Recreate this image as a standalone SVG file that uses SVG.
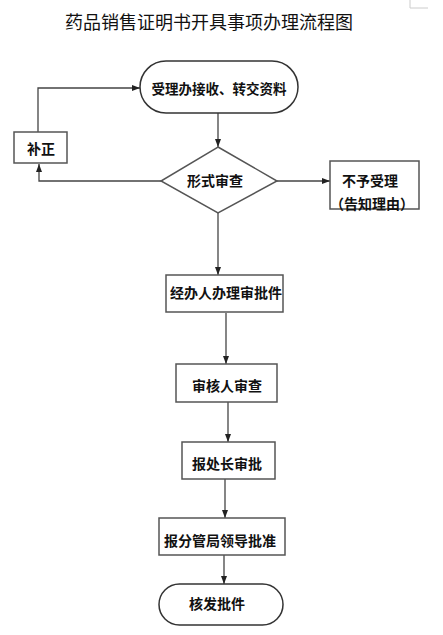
<svg xmlns="http://www.w3.org/2000/svg" width="443" height="635" viewBox="0 0 443 635">
<style>
.node{fill:#fff;stroke:#555;stroke-width:1.5}
.term{fill:#fff;stroke:#333;stroke-width:1.5}
.lbl{font-family:"Noto Sans CJK SC","Noto Sans",sans-serif;font-weight:bold;font-size:14px;fill:#111;text-anchor:middle;dominant-baseline:central}
.title{font-family:"Noto Sans CJK SC","Noto Sans",sans-serif;font-size:18px;fill:#111;text-anchor:middle}
.edge{fill:none;stroke:#444;stroke-width:1.3}
</style>
<defs>
<marker id="arr" markerUnits="userSpaceOnUse" markerWidth="8" markerHeight="8" viewBox="0 0 8 8" refX="8" refY="4" orient="auto">
<path d="M0,1 L8,4 L0,7 Z" fill="#222"/>
</marker>
</defs>
<rect width="443" height="635" fill="#fff"/>
<path d="M410,0 V8 H428" fill="none" stroke="#ccc" stroke-width="1"/>
<text class="title" x="209" y="29">药品销售证明书开具事项办理流程图</text>
<g id="connectors">
<path class="edge" d="M218,113 V147" marker-end="url(#arr)"/>
<path class="edge" d="M161,181 H39 V164" marker-end="url(#arr)"/>
<path class="edge" d="M38,132 V88 H140" marker-end="url(#arr)"/>
<path class="edge" d="M277,181 H330" marker-end="url(#arr)"/>
<path class="edge" d="M218,213 V275" marker-end="url(#arr)"/>
<path class="edge" d="M226,313 V364" marker-end="url(#arr)"/>
<path class="edge" d="M228,402 V442" marker-end="url(#arr)"/>
<path class="edge" d="M225,479 V518" marker-end="url(#arr)"/>
<path class="edge" d="M224,555 V584" marker-end="url(#arr)"/>
</g>
<g id="start">
<rect class="term" x="140" y="61" width="158" height="52" rx="26"/>
<text class="lbl" x="219" y="88" style="font-size:13.5px">受理办接收、转交资料</text>
</g>
<g id="check">
<path class="node" d="M218,147 L277,181 L218,213 L161,181 Z"/>
<text class="lbl" x="215" y="180">形式审查</text>
</g>
<g id="correct">
<rect class="node" x="14" y="132" width="53" height="31"/>
<text class="lbl" x="41" y="148">补正</text>
</g>
<g id="reject">
<rect class="node" x="330" y="161" width="89" height="48"/>
<text class="lbl" x="370" y="180">不予受理</text>
<text class="lbl" x="372" y="203">（告知理由）</text>
</g>
<g id="handler">
<rect class="node" x="166" y="275" width="117" height="37"/>
<text class="lbl" x="226" y="292">经办人办理审批件</text>
</g>
<g id="reviewer">
<rect class="node" x="176" y="364" width="101" height="38"/>
<text class="lbl" x="227" y="385">审核人审查</text>
</g>
<g id="director">
<rect class="node" x="182" y="442" width="93" height="37"/>
<text class="lbl" x="227" y="463">报处长审批</text>
</g>
<g id="leader">
<rect class="node" x="159" y="518" width="126" height="37"/>
<text class="lbl" x="220" y="540">报分管局领导批准</text>
</g>
<g id="issue">
<rect class="term" x="159" y="584" width="124" height="41" rx="20.5"/>
<text class="lbl" x="217" y="603">核发批件</text>
</g>
</svg>
